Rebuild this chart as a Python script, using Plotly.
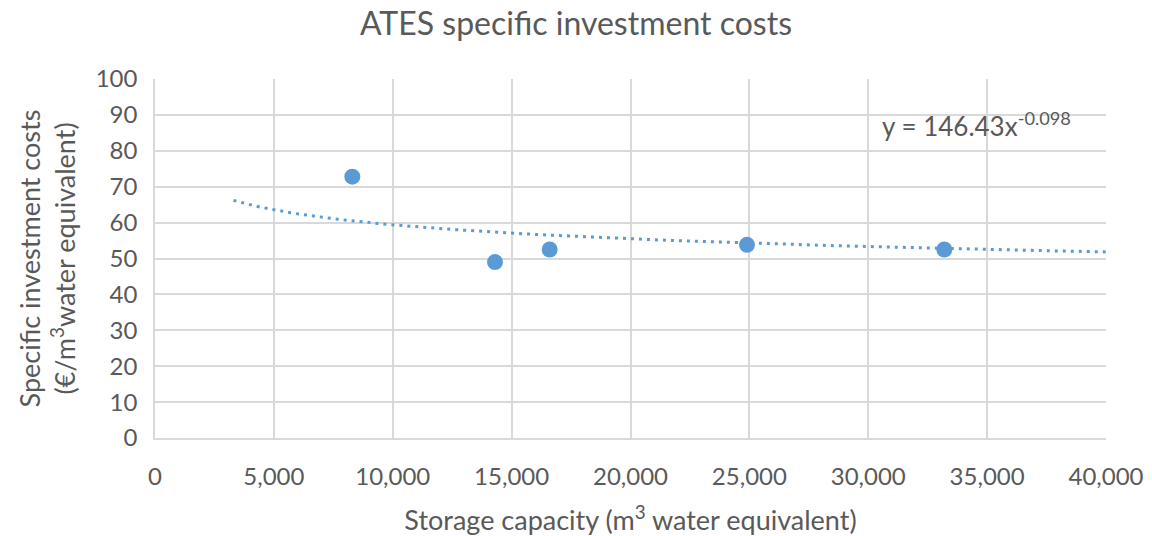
import numpy as np
import plotly.graph_objects as go

# Data
storage_capacity = [8300, 14300, 16600, 24900, 33200]
specific_costs = [72.8, 49.0, 52.5, 53.8, 52.5]

# Power trendline shown on the chart: y = 146.43 x^-0.098
trend_coef = 146.43
trend_exp = -0.098
trend_start = 3300
trend_end = 40000

x_ticks = [0, 5000, 10000, 15000, 20000, 25000, 30000, 35000, 40000]
x_tick_labels = ["0", "5,000", "10,000", "15,000", "20,000", "25,000", "30,000", "35,000", "40,000"]
y_ticks = list(range(0, 101, 10))

blue = "#5B9BD5"
text_color = "#595959"
grid = "#D9D9D9"
font_family = "Lato, 'Open Sans', sans-serif"

trend_x = np.linspace(trend_start, trend_end, 200)
trend_y = trend_coef * trend_x ** trend_exp

fig = go.Figure()
fig.add_trace(go.Scatter(
    x=trend_x, y=trend_y, mode="lines",
    line=dict(color=blue, width=3, dash="3px,5px"),
    hoverinfo="skip", showlegend=False,
))
fig.add_trace(go.Scatter(
    x=storage_capacity, y=specific_costs, mode="markers",
    marker=dict(color=blue, size=16),
    showlegend=False,
))

fig.add_annotation(
    x=0.864, y=0.872, xref="paper", yref="paper",
    text=f"y = {trend_coef}x<sup>{trend_exp}</sup>",
    showarrow=False, xanchor="center", yanchor="middle",
    font=dict(size=26, color=text_color, family=font_family),
)

fig.update_layout(
    width=1152, height=536,
    paper_bgcolor="white", plot_bgcolor="white",
    margin=dict(l=155, r=46, t=79, b=98, autoexpand=False),
    title=dict(
        text="ATES specific investment costs",
        x=0.5, xanchor="center", y=0.955, yanchor="middle",
        font=dict(size=32, color=text_color, family=font_family),
    ),
    font=dict(family=font_family, color=text_color),
    xaxis=dict(
        range=[0, 40000], tickvals=x_ticks, ticktext=x_tick_labels,
        showgrid=True, gridcolor=grid, gridwidth=1.5,
        zeroline=False, showline=True, linecolor=grid, linewidth=1.5,
        tickfont=dict(size=24, color=text_color),
        ticks="", ticklen=0, ticklabelstandoff=16,
        automargin=False,
        title=dict(text="Storage capacity (m<sup>3</sup> water equivalent)",
                   font=dict(size=27, color=text_color), standoff=26),
    ),
    yaxis=dict(
        range=[0, 100], tickvals=y_ticks,
        showgrid=True, gridcolor=grid, gridwidth=1.5,
        zeroline=False, showline=True, linecolor=grid, linewidth=1.5,
        tickfont=dict(size=24, color=text_color),
        ticks="", ticklen=0, ticklabelstandoff=11,
        automargin=False,
        title=dict(text="Specific investment costs<br>(€/m<sup>3</sup>water equivalent)",
                   font=dict(size=27, color=text_color), standoff=12),
    ),
)

fig.write_html("out.html", config={"displayModeBar": False},
               post_script="document.body.style.margin='0';")
